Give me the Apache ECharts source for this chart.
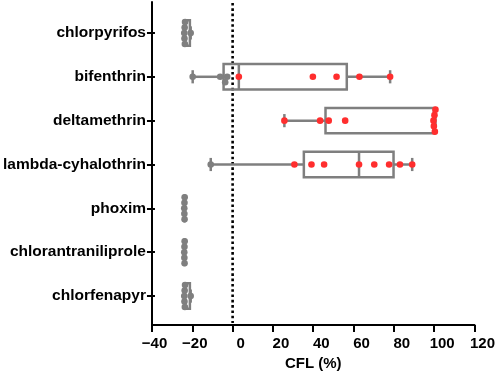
<!DOCTYPE html>
<html><head><meta charset="utf-8">
<script src="https://cdn.jsdelivr.net/npm/echarts@6/dist/echarts.min.js"></script>
<style>html,body{margin:0;padding:0;background:#fff}#c{width:498px;height:379px}</style>
</head><body><div id="c"></div>
<script>
// ---- data ----
const categories = ['chlorpyrifos','bifenthrin','deltamethrin','lambda-cyhalothrin','phoxim','chlorantraniliprole','chlorfenapyr'];
const boxMin    = [-25.5, -21.2, 24.5, -12.2, -25.4, -25.4, -25.5];
const boxQ1     = [-25.2,  -5.8, 45.0,  34.2, -25.3, -25.3, -25.2];
const boxMedian = [-25.0,   1.8, 99.0,  61.7, -25.3, -25.3, -25.0];
const boxQ3     = [-22.6,  55.6, 99.3,  78.9, -25.2, -25.2, -22.6];
const boxMax    = [-22.2,  77.2, 99.8,  88.2, -25.2, -25.2, -22.2];
const ptsChlorpyrifos = [-25.4, -25.3, -25.2, -25.1, -25.0, -22.2];
const ptsBifenthrin   = [-21.2, -7.5, -5.0, -4.0, 1.8, 38.7, 50.5, 61.9, 77.2];
const ptsDeltamethrin = [24.5, 42.3, 46.6, 54.8, 98.8, 99.0, 99.3, 99.5, 99.8];
const ptsLambda       = [-12.2, 29.5, 38.0, 44.3, 61.7, 69.3, 76.7, 82.1, 88.2];
const ptsPhoxim       = [-25.4, -25.35, -25.3, -25.25, -25.2];
const ptsChlorantraniliprole = [-25.4, -25.35, -25.3, -25.25, -25.2];
const ptsChlorfenapyr = [-25.4, -25.3, -25.2, -25.1, -25.0, -22.2];
const xTickMin = -40, xTickMax = 120, xTickStep = 20;
const referenceX = 0;
const pointsByCategory = [ptsChlorpyrifos, ptsBifenthrin, ptsDeltamethrin, ptsLambda, ptsPhoxim, ptsChlorantraniliprole, ptsChlorfenapyr];

// ---- style ----
const GRAY = '#7f7f7f', RED = '#ff2e2e', FONT = '"Liberation Sans", Arial, sans-serif';

function renderBox(params, api) {
  const c = api.value(0);
  const pMin = api.coord([api.value(1), c]);
  const pQ1 = api.coord([api.value(2), c]);
  const pMed = api.coord([api.value(3), c]);
  const pQ3 = api.coord([api.value(4), c]);
  const pMax = api.coord([api.value(5), c]);
  const band = api.size([0, 1], [0, c])[1];
  const hb = band * 0.29, hc = band * 0.15;
  const y = pMed[1];
  const st = {stroke: GRAY, lineWidth: 2.5, fill: 'none'};
  return {type: 'group', children: [
    {type: 'line', shape: {x1: pMin[0], y1: y, x2: pQ1[0], y2: y}, style: st},
    {type: 'line', shape: {x1: pQ3[0], y1: y, x2: pMax[0], y2: y}, style: st},
    {type: 'line', shape: {x1: pMin[0], y1: y - hc, x2: pMin[0], y2: y + hc}, style: st},
    {type: 'line', shape: {x1: pMax[0], y1: y - hc, x2: pMax[0], y2: y + hc}, style: st},
    {type: 'rect', shape: {x: pQ1[0], y: y - hb, width: pQ3[0] - pQ1[0], height: 2 * hb}, style: st},
    {type: 'line', shape: {x1: pMed[0], y1: y - hb, x2: pMed[0], y2: y + hb}, style: st}
  ]};
}

function renderDots(params, api) {
  const c = api.value(0);
  const vals = pointsByCategory[c];
  const r = 3.3, step = 5.5;
  const placed = [];
  const order = vals.map((v, i) => i).sort((a, b) => vals[a] - vals[b]);
  order.forEach(i => {
    const p = api.coord([vals[i], c]);
    let dy = 0;
    for (let k = 0; k < 60; k++) {
      const cand = k === 0 ? 0 : (k % 2 === 1 ? 1 : -1) * Math.ceil(k / 2) * step;
      if (placed.every(q => Math.hypot(q.x - p[0], q.y - (p[1] + cand)) >= step - 0.01)) { dy = cand; break; }
    }
    placed.push({x: p[0], y: p[1] + dy, v: vals[i]});
  });
  return {type: 'group', children: placed.map(q => ({
    type: 'circle', shape: {cx: q.x, cy: q.y, r: r}, style: {fill: q.v > 0 ? RED : GRAY}
  }))};
}

function renderRef(params, api) {
  const top = api.coord([api.value(0), 1]);
  const bot = api.coord([api.value(0), 0]);
  return {type: 'line', shape: {x1: top[0], y1: top[1] + 1, x2: bot[0], y2: bot[1] - 2},
    style: {stroke: '#000', lineWidth: 2.6, lineDash: [2.6, 2.7], lineCap: 'butt'}};
}

const labelRich = {
  n: {fontSize: 15, fontWeight: 'bold', color: '#000', fontFamily: FONT, padding: [0, 0, 0, 5]},
  p: {fontSize: 15, fontWeight: 'bold', color: '#000', fontFamily: FONT, padding: [0, 0, 0, 16]}
};

const option = {
  animation: false,
  backgroundColor: '#fff',
  grid: [
    {left: 152, right: 22, top: 2, bottom: 54},
    {left: 152, right: 22, top: 11, bottom: 61}
  ],
  xAxis: [
    {gridIndex: 0, type: 'value', min: xTickMin, max: xTickMax, interval: xTickStep,
     axisLine: {show: true, onZero: false, lineStyle: {color: '#000', width: 2}},
     axisTick: {show: true, length: 7, lineStyle: {color: '#000', width: 2}},
     splitLine: {show: false},
     axisLabel: {margin: 11, color: '#000', fontSize: 15, fontWeight: 'bold', fontFamily: FONT,
       formatter: v => v < 0 ? '{n|\u2212' + (-v) + '}' : '{p|' + v + '}', rich: labelRich},
     name: 'CFL (%)', nameLocation: 'middle', nameGap: 25,
     nameTextStyle: {color: '#000', fontSize: 15, fontWeight: 'bold', fontFamily: FONT}},
    {gridIndex: 1, type: 'value', min: xTickMin, max: xTickMax, interval: xTickStep, show: false}
  ],
  yAxis: [
    {gridIndex: 0, type: 'value', min: 0, max: 1,
     axisLine: {show: true, onZero: false, lineStyle: {color: '#000', width: 2}},
     axisTick: {show: false}, axisLabel: {show: false}, splitLine: {show: false}},
    {gridIndex: 1, type: 'category', data: categories, inverse: true,
     axisLine: {show: false, onZero: false},
     axisTick: {show: true, alignWithLabel: true, length: 8, lineStyle: {color: '#000', width: 2}},
     axisLabel: {margin: 9, color: '#000', fontSize: 15.5, fontWeight: 'bold', fontFamily: FONT},
     splitLine: {show: false}}
  ],
  series: [
    {type: 'custom', xAxisIndex: 0, yAxisIndex: 0, renderItem: renderRef, silent: true, z: 1,
     data: [[referenceX, 0]], encode: {x: 0, y: 1}},
    {type: 'custom', xAxisIndex: 1, yAxisIndex: 1, renderItem: renderBox, z: 2, clip: false,
     data: categories.map((c, i) => [i, boxMin[i], boxQ1[i], boxMedian[i], boxQ3[i], boxMax[i]]),
     encode: {y: 0, x: [1, 2, 3, 4, 5]}},
    {type: 'custom', xAxisIndex: 1, yAxisIndex: 1, renderItem: renderDots, z: 3, clip: false,
     data: categories.map((c, i) => [i, boxMedian[i]]),
     encode: {y: 0, x: 1}}
  ]
};
const chart = echarts.init(document.getElementById('c'));
chart.setOption(option);
</script>
</body></html>
